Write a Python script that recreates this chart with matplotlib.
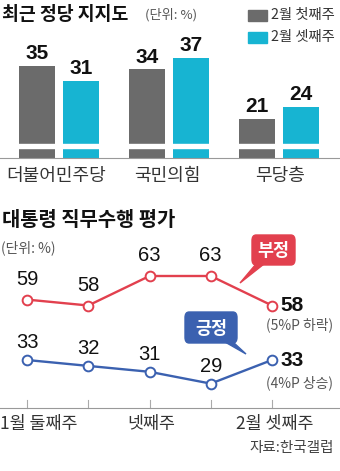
import matplotlib
matplotlib.use("Agg")
import matplotlib.pyplot as plt
from matplotlib.patches import FancyBboxPatch, Polygon

plt.rcParams["font.family"] = ["Noto Sans CJK KR", "DejaVu Sans"]
NUM_FONT = ["Liberation Sans", "DejaVu Sans"]

# 정당 지지도 데이터
parties = ["더불어민주당", "국민의힘", "무당층"]
week1_feb = [35, 34, 21]
week3_feb = [31, 37, 24]
bar_legend = ["2월 첫째주", "2월 셋째주"]

# 대통령 직무수행 평가 데이터
weeks = ["1월 둘째주", "1월 셋째주", "넷째주", "2월 첫째주", "2월 셋째주"]
negative = [59, 58, 63, 63, 58]
positive = [33, 32, 31, 29, 33]
shown_ticks = [0, 2, 4]

GRAY = "#6b6b6b"
CYAN = "#17b4d2"
RED = "#e2404e"
BLUE = "#3b61b0"
TXT = "#333333"

W, H = 340, 471
fig = plt.figure(figsize=(W / 100, H / 100), dpi=100)


def box(x0, y0, x1, y1):
    # 픽셀 좌표(위에서부터) -> figure 비율
    return [x0 / W, 1 - y1 / H, (x1 - x0) / W, (y1 - y0) / H]


def fy(y):
    return 1 - y / H


# ---------- 막대 차트 ----------
fig.text(2 / W, fy(14), "최근 정당 지지도", fontsize=13.2, fontweight="bold",
         color="#111111", va="center")
fig.text(145 / W, fy(15), "(단위: %)", fontsize=9.5, color="#555555", va="center")

for i, (lab, col) in enumerate(zip(bar_legend, [GRAY, CYAN])):
    yc = 15 + i * 22
    fig.patches.append(plt.Rectangle((248 / W, fy(yc + 5.5)), 19 / W, 11 / H,
                                     transform=fig.transFigure, color=col))
    fig.text(271 / W, fy(yc), lab, fontsize=10.3, color=TXT, va="center")

ax1 = fig.add_axes(box(0, 50, 340, 158))
ax1.set_xlim(-59 / 110, 281 / 110)
ax1.set_ylim(10.6, 39.1)
xs = range(len(parties))
off, bw = 0.2, 0.33
ax1.bar([x - off for x in xs], week1_feb, width=bw, color=GRAY)
ax1.bar([x + off for x in xs], week3_feb, width=bw, color=CYAN)
for x, v1, v2 in zip(xs, week1_feb, week3_feb):
    for xx, v in [(x - off, v1), (x + off, v2)]:
        ax1.annotate(str(v), (xx, v), xytext=(0, 2), textcoords="offset points",
                     ha="center", va="bottom", fontsize=15, fontweight="bold",
                     color="#111111", family=NUM_FONT)
# 축 생략 표시
ax1.axhspan(13.3, 14.3, color="white", zorder=3)
ax1.axis("off")
fig.add_artist(plt.Line2D([0, 1], [fy(158), fy(158)], color="#999999", lw=0.8))
for x, name in zip([56, 167, 280], parties):
    fig.text(x / W, fy(176), name, fontsize=13, color=TXT, ha="center", va="center")

# ---------- 꺾은선 차트 ----------
fig.text(2 / W, fy(219), "대통령 직무수행 평가", fontsize=14.3, fontweight="bold",
         color="#111111", va="center")
fig.text(1 / W, fy(248), "(단위: %)", fontsize=10, color="#555555", va="center")

rect = box(0, 250, 340, 408)
ax_r = fig.add_axes(rect)
ax_b = fig.add_axes(rect)
xlim = (-27 / 61.25, 313 / 61.25)
ppu = 5.9
for ax, data, col, ref, ref_y, dy in [(ax_r, negative, RED, 63, 276, 14.5),
                                      (ax_b, positive, BLUE, 33, 360, 12.5)]:
    ax.set_xlim(*xlim)
    ax.set_ylim(ref - (408 - ref_y) / ppu, ref + (ref_y - 250) / ppu)
    ax.plot(range(len(data)), data, color=col, lw=1.7, marker="o", ms=7,
            mfc="white", mec=col, mew=1.4, zorder=3)
    for x, v in enumerate(data[:-1]):
        ax.annotate(str(v), (x, v), xytext=(0, dy), textcoords="offset points",
                    ha="center", va="center", fontsize=14.5, color="#111111",
                    family=NUM_FONT)
    ax.annotate(str(data[-1]), (len(data) - 1, data[-1]), xytext=(6, 0),
                textcoords="offset points", ha="left", va="center",
                fontsize=15, fontweight="bold", color="#111111", family=NUM_FONT)
    ax.axis("off")
ax_b.patch.set_alpha(0)

fig.text(300 / W, fy(325), "(5%P 하락)", fontsize=10, color="#555555", ha="center", va="center")
fig.text(300 / W, fy(383), "(4%P 상승)", fontsize=10, color="#555555", ha="center", va="center")

# 부정 / 긍정 말풍선
for (x0, y0, x1, y1), tail, col, lab in [
        ((252, 235, 295, 265), [(256, 264), (264, 264), (240, 283)], RED, "부정"),
        ((185, 312, 237, 343), [(225, 342), (233, 342), (246, 354)], BLUE, "긍정")]:
    fig.patches.append(FancyBboxPatch((x0 / W, fy(y1)), (x1 - x0) / W, (y1 - y0) / H,
                                      boxstyle="round,pad=0,rounding_size=0.012",
                                      transform=fig.transFigure, color=col, zorder=5))
    fig.patches.append(Polygon([(px / W, fy(py)) for px, py in tail], closed=True,
                               transform=fig.transFigure, color=col, zorder=5))
    fig.text((x0 + x1) / 2 / W, fy((y0 + y1) / 2 + 1), lab, fontsize=12.5, fontweight="bold",
             color="white", ha="center", va="center", zorder=6)

# x 축
fig.add_artist(plt.Line2D([0, 1], [fy(408), fy(408)], color="#999999", lw=0.8))
for i in range(len(weeks)):
    ax_r.plot([i, i], [ax_r.get_ylim()[0], ax_r.get_ylim()[0] + 8 / ppu],
              color="#aaaaaa", lw=0.8, clip_on=False)
label_x = {0: 0, 2: 151, 4: 275}
for i in shown_ticks:
    fig.text(label_x[i] / W, fy(424), weeks[i], fontsize=12.5, color=TXT,
             ha="left" if i == 0 else "center", va="center")

fig.text(334 / W, fy(448), "자료:한국갤럽", fontsize=10.5, color="#444444",
         ha="right", va="center")

fig.savefig("out.png", dpi=100, facecolor="white")
